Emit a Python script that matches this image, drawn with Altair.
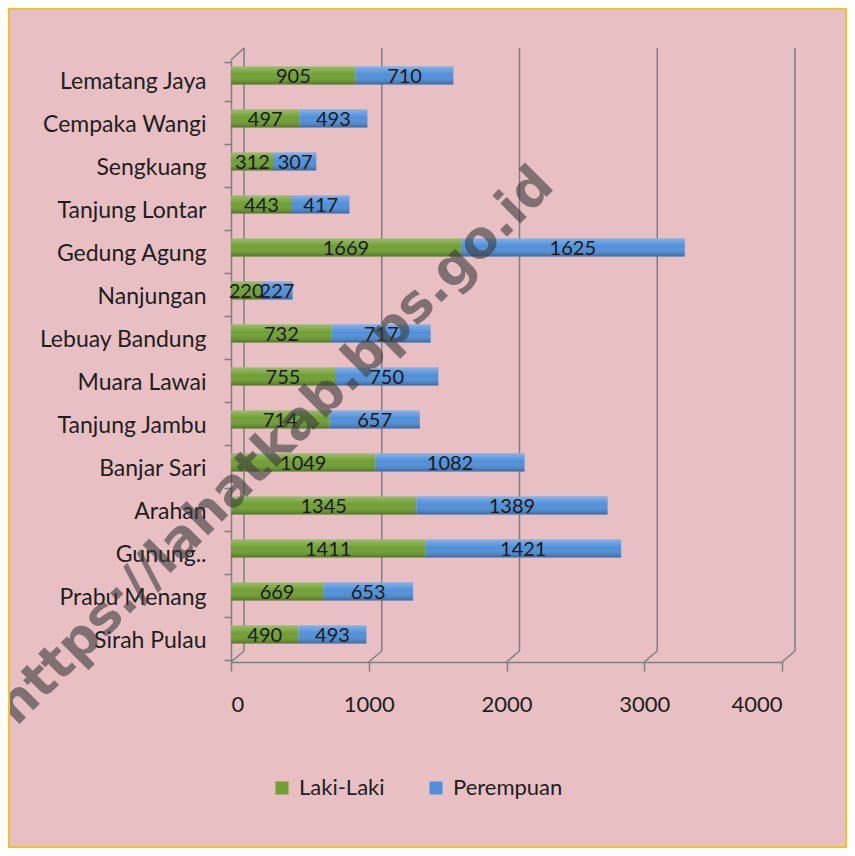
import altair as alt
import pandas as pd

categories = ["Lematang Jaya", "Cempaka Wangi", "Sengkuang", "Tanjung Lontar",
              "Gedung Agung", "Nanjungan", "Lebuay Bandung", "Muara Lawai",
              "Tanjung Jambu", "Banjar Sari", "Arahan", "Gunung..",
              "Prabu Menang", "Sirah Pulau"]
laki = [905, 497, 312, 443, 1669, 220, 732, 755, 714, 1049, 1345, 1411, 669, 490]
perempuan = [710, 493, 307, 417, 1625, 227, 717, 750, 657, 1082, 1389, 1421, 653, 493]
series = ["Laki-Laki", "Perempuan"]
series_colors = ["#6f9f31", "#4f8fd9"]
x_ticks = [0, 1000, 2000, 3000, 4000]
watermark = "https://lahatkab.bps.go.id"

rows = []
for c, l, p in zip(categories, laki, perempuan):
    rows.append({"cat": c, "series": series[0], "value": l, "ord": 0})
    rows.append({"cat": c, "series": series[1], "value": p, "ord": 1})
df = pd.DataFrame(rows)
grid_df = pd.DataFrame({"v": x_ticks})

FONT = "Lato"
GRID = "#7f7f7f"
TXT = "#1e1e1e"
W, H = 551, 602

y_enc = alt.Y("cat:N", sort=categories, title=None,
              axis=alt.Axis(labelFont=FONT, labelFontSize=23, labelColor=TXT,
                            tickBand="extent", tickSize=7, tickColor=GRID,
                            domainColor=GRID, domainWidth=1.5, tickWidth=1.5,
                            labelPadding=18, labelLimit=260))
x_scale = alt.Scale(domain=[0, 4000], nice=False)

grid = alt.Chart(grid_df).mark_rule(color=GRID, strokeWidth=1.5, xOffset=13).encode(
    x=alt.X("v:Q", scale=x_scale), y=alt.value(-12), y2=alt.value(591))
diag = alt.Chart(grid_df).mark_rule(color=GRID, strokeWidth=1.5, x2Offset=13).encode(
    x=alt.X("v:Q", scale=x_scale), x2=alt.X2("v"), y=alt.value(H), y2=alt.value(591))
top_diag = alt.Chart(grid_df).transform_filter("datum.v == 0").mark_rule(
    color=GRID, strokeWidth=1.5, x2Offset=13).encode(
    x=alt.X("v:Q", scale=x_scale), x2=alt.X2("v"), y=alt.value(0), y2=alt.value(-12))

bars = alt.Chart(df).mark_bar(size=18, yOffset=-6).encode(
    x=alt.X("value:Q", stack="zero", scale=x_scale, title=None,
            axis=alt.Axis(values=x_ticks, grid=False, format="d", labelFont=FONT,
                          labelFontSize=22, labelColor=TXT, tickSize=9,
                          tickColor=GRID, tickWidth=1.5, domainColor=GRID,
                          domainWidth=1.5, labelPadding=23)),
    y=y_enc,
    color=alt.Color("series:N", scale=alt.Scale(domain=series, range=series_colors),
                    legend=alt.Legend(orient="none", legendX=40, legendY=717,
                                      direction="horizontal", title=None,
                                      symbolType="square", symbolSize=170,
                                      symbolStrokeWidth=0, labelFont=FONT,
                                      labelFontSize=22, labelColor=TXT,
                                      labelOffset=6, columnPadding=40)),
    order=alt.Order("ord:Q"),
)

shade = alt.Chart(df).mark_bar(
    size=18, yOffset=-6,
    fill=alt.Gradient(gradient="linear", x1=0, x2=0, y1=0, y2=1,
                      stops=[alt.GradientStop(color="rgba(255,255,255,0.30)", offset=0),
                             alt.GradientStop(color="rgba(255,255,255,0.0)", offset=0.45),
                             alt.GradientStop(color="rgba(0,0,0,0.28)", offset=1)])
).encode(
    x=alt.X("value:Q", stack="zero", scale=x_scale),
    y=alt.Y("cat:N", sort=categories),
    order=alt.Order("ord:Q"),
    detail="series:N",
)

labels = alt.Chart(df).transform_stack(
    stack="value", groupby=["cat"], as_=["x0", "x1"], sort=[alt.SortField("ord")]
).transform_calculate(mid="(datum.x0 + datum.x1) / 2").mark_text(
    font=FONT, fontSize=20, color="#1a1a1a", yOffset=-5
).encode(
    x=alt.X("mid:Q", scale=x_scale),
    y=alt.Y("cat:N", sort=categories),
    text="value:Q",
)

wm = alt.Chart(pd.DataFrame({"t": [watermark]})).mark_text(
    angle=315, font="DejaVu Sans", fontWeight="bold", fontSize=52,
    color="#3c3c3c", opacity=0.6
).encode(x=alt.value(44), y=alt.value(386), text="t:N")

frame = alt.Chart(grid_df).transform_filter("datum.v == 0").mark_rect(
    fill=None, fillOpacity=0, stroke="#f2c12e", strokeWidth=2
).encode(x=alt.value(-222), x2=alt.value(W + 64), y=alt.value(-51), y2=alt.value(H + 185))

chart = alt.layer(grid, diag, top_diag, bars, shade, labels, wm, frame).properties(
    width=W, height=H,
    padding={"left": 223, "top": 52, "right": 65, "bottom": 186},
    autosize=alt.AutoSizeParams(type="none"),
    background="#e8c0c4",
).configure_view(stroke=None)

chart.save("out.html", embed_options={"renderer": "svg", "actions": False})
